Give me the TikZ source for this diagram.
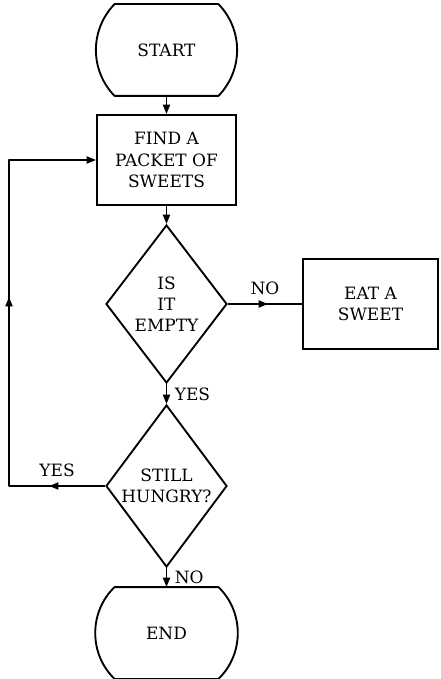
\documentclass[tikz,border=0pt]{standalone}
\usepackage{fontspec}
\setmainfont{DejaVu Serif}
\usepackage{tikz}
\usetikzlibrary{arrows.meta,shapes.geometric,decorations.markings}

\begin{document}
\begin{tikzpicture}[
    x=0.03cm, y=-0.03cm,
    font=\fontsize{14.5}{18}\selectfont,
    line width=1.6pt,
    terminal/.style={rectangle, minimum width=3.06cm, minimum height=2.7cm, inner sep=0pt, align=center},
    process/.style={rectangle, draw, minimum height=2.7cm, inner sep=0pt, align=center},
    decision/.style={diamond, draw, inner sep=-16pt, minimum width=3.63cm, align=center},
    flow/.style={-{Triangle[length=8pt,width=6pt]}},
    midflow/.style={postaction={decorate, decoration={markings, mark=at position #1 with {\arrow{Triangle[length=8pt,width=6pt]}}}}},
    midflow/.default=0.5,
    outline/.style={line join=round}
]
\useasboundingbox (0,0) rectangle (440,679);

\node[terminal] (start) at (166.5,50) {START};
\node[process, minimum width=4.17cm] (find) at (166.5,160) {FIND A\\PACKET OF\\SWEETS};
\node[decision, minimum height=4.74cm] (empty) at (166.5,304) {IS\\IT\\EMPTY};
\node[process, minimum width=4.05cm] (eat) at (370.5,304) {EAT A\\SWEET};
\node[decision, minimum height=4.86cm] (hungry) at (166.5,486) {STILL\\HUNGRY?};
\node[terminal] (stop) at (166.5,633) {END};

\draw[outline] (start.north west) -- (start.north east) to[bend left=44] (start.south east)
    -- (start.south west) to[bend left=44] (start.north west) -- cycle;
\draw[outline] (stop.north west) -- (stop.north east) to[bend left=46] (stop.south east)
    -- (stop.south west) to[bend left=46] (stop.north west) -- cycle;

\coordinate (loopbot) at (9,486);
\coordinate (looptop) at (9,160);

\draw[flow] (start) -- (find);
\draw[flow] (find) -- (empty);
\draw[midflow=0.54] (empty) -- node[above=4pt] {NO} (eat);
\draw[flow] (empty) -- node[right=3pt] {YES} (hungry);
\draw[flow] (hungry) -- node[right=3pt] {NO} (stop);
\draw[flow, outline, midflow=0.11, midflow=0.56] (hungry.west) -- node[above=4pt] {YES} (loopbot)
    -- (looptop) -- (find.west);
\end{tikzpicture}
\end{document}
